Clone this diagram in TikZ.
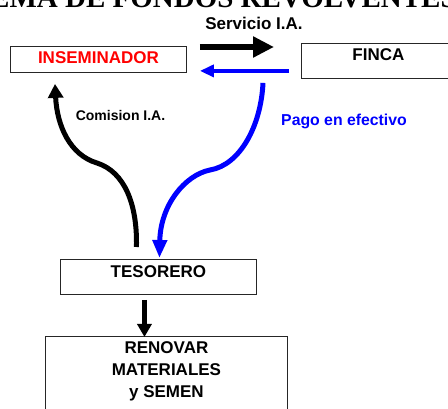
\documentclass[tikz,border=0pt]{standalone}
\usepackage{fontspec}
\setmainfont{Liberation Sans}
\newfontfamily\titulofont{Liberation Serif}
\usetikzlibrary{arrows.meta}
\begin{document}
\begin{tikzpicture}[x=1pt,y=-1pt,
    caja/.style={draw=black!85, line width=0.9pt, anchor=north west, inner sep=0pt,
      font=\fontsize{17}{22}\selectfont\bfseries},
    etiqueta/.style={anchor=base, inner sep=0pt}]
  % Marco de la figura
  \useasboundingbox (0,0) rectangle (448,409);
  \clip (0,0) rectangle (448,409);

  % Titulo (cortado arriba)
  \node[anchor=base west, inner sep=0pt, font=\titulofont\fontsize{29}{31}\selectfont\bfseries]
    (titulo) at (-89,8) {ESQUEMA DE FONDOS REVOLVENTES};

  % Cajas
  \node[caja, minimum width=176pt, text height=17pt, text depth=9pt, text=red] (insem) at (10,46) {INSEMINADOR};
  \node[caja, minimum width=154pt, text height=17pt, text depth=18pt] (finca) at (301,43) {FINCA};
  \node[caja, minimum width=196pt, text height=18pt, text depth=17pt] (tesorero) at (60,259) {TESORERO};
  \node[caja, minimum width=242pt, align=center, text height=61pt, text depth=31pt] (renovar) at (45,336)
    {RENOVAR\\MATERIALES\\y SEMEN};

  % Flechas entre inseminador y finca
  \draw[line width=6pt, -{Triangle[length=21pt,width=20pt]}]
    ([xshift=13pt,yshift=-1pt]insem.north east) -- ([xshift=-27pt,yshift=-4pt]finca.north west);
  \draw[blue, line width=4pt, -{Triangle[length=14pt,width=12pt]}]
    ([xshift=-12pt,yshift=8pt]finca.south west) -- ([xshift=13pt,yshift=2pt]insem.south east);

  % Comision: del tesorero al inseminador
  \draw[line width=5pt, -{Triangle[length=14pt,width=15pt]}]
    ([xshift=-22pt,yshift=12pt]tesorero.north) .. controls +(1,-42) and +(28,9) .. (97,163)
    .. controls +(-27,-8) and +(2,42) .. ([xshift=45pt,yshift=-11pt]insem.south west);

  % Pago en efectivo: de la finca al tesorero
  \draw[blue, line width=5pt, -{Triangle[length=18pt,width=14pt]}]
    ([xshift=-38pt,yshift=-4pt]finca.south west) .. controls +(-2,43) and +(30,-5) .. (210,170)
    .. controls +(-25,5) and +(1,-53) .. ([xshift=1pt,yshift=1pt]tesorero.north);

  % Del tesorero a renovar
  \draw[line width=5pt, -{Triangle[length=13pt,width=14pt]}]
    ([xshift=-14pt,yshift=-5pt]tesorero.south) -- ([xshift=-22pt,yshift=-1pt]renovar.north);

  % Etiquetas
  \node[etiqueta, font=\fontsize{17}{20}\selectfont\bfseries] (servicio) at (254,30) {Servicio I.A.};
  \node[etiqueta, font=\fontsize{14}{16}\selectfont\bfseries] (comision) at (120.5,121) {Comision I.A.};
  \node[etiqueta, text=blue, font=\fontsize{15.8}{18}\selectfont\bfseries] (pago) at (344,126) {Pago en efectivo};
\end{tikzpicture}
\end{document}
